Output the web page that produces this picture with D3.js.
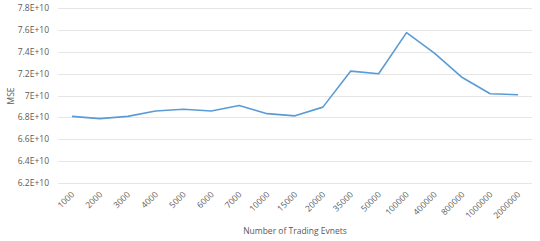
<!DOCTYPE html>
<html><head><meta charset="utf-8">
<script src="https://cdn.jsdelivr.net/npm/d3@7"></script>
<style>body{margin:0;background:#fff}svg{display:block}text{font-family:"Open Sans","Liberation Sans",sans-serif;fill:#595959}</style>
</head><body>
<svg id="c" width="540" height="241"></svg>
<script>
const categories = ["1000","2000","3000","4000","5000","6000","7000","10000","15000","20000","35000","50000","100000","400000","800000","1000000","2000000"];
const mse = [6.81e10,6.79e10,6.81e10,6.86e10,6.875e10,6.86e10,6.91e10,6.835e10,6.815e10,6.895e10,7.225e10,7.20e10,7.577e10,7.39e10,7.166e10,7.017e10,7.008e10];
const yTicks = [6.2e10,6.4e10,6.6e10,6.8e10,7.0e10,7.2e10,7.4e10,7.6e10,7.8e10];
const yTickLabels = ["6.2E+10","6.4E+10","6.6E+10","6.8E+10","7E+10","7.2E+10","7.4E+10","7.6E+10","7.8E+10"];

(function(){
const svg = d3.select("#c");
const pl = 58, pr = 532, pt = 8.3, pb = 183;
const x = d3.scaleBand().domain(categories).range([pl, pr]);
const y = d3.scaleLinear().domain([6.2e10, 7.8e10]).range([pb, pt]);

svg.append("g").selectAll("line").data(yTicks).join("line")
  .attr("x1", pl).attr("x2", pr)
  .attr("y1", d => Math.round(y(d)) + 0.5).attr("y2", d => Math.round(y(d)) + 0.5)
  .attr("stroke", "#e6e6e6").attr("stroke-width", 1);

svg.append("g").selectAll("text").data(yTicks).join("text")
  .attr("x", 49).attr("y", d => y(d) + 3)
  .attr("text-anchor", "end").attr("font-size", 8.5)
  .text((d, i) => yTickLabels[i]);

svg.append("g").selectAll("text").data(categories).join("text")
  .attr("transform", d => `translate(${x(d) + x.bandwidth() / 2 + 3},${pb + 12}) rotate(-45)`)
  .attr("text-anchor", "end").attr("font-size", 8.5)
  .text(d => d);

const line = d3.line().x((d, i) => x(categories[i]) + x.bandwidth() / 2).y(d => y(d));
svg.append("path").datum(mse).attr("d", line)
  .attr("fill", "none").attr("stroke", "#5B9BD5").attr("stroke-width", 1.6)
  .attr("stroke-linejoin", "round");

svg.append("text").attr("transform", "translate(14,96) rotate(-90)")
  .attr("text-anchor", "middle").attr("font-size", 8.5).text("MSE");
svg.append("text").attr("x", 295).attr("y", 234)
  .attr("text-anchor", "middle").attr("font-size", 8.5).text("Number of Trading Evnets");
})();
</script>
</body></html>
